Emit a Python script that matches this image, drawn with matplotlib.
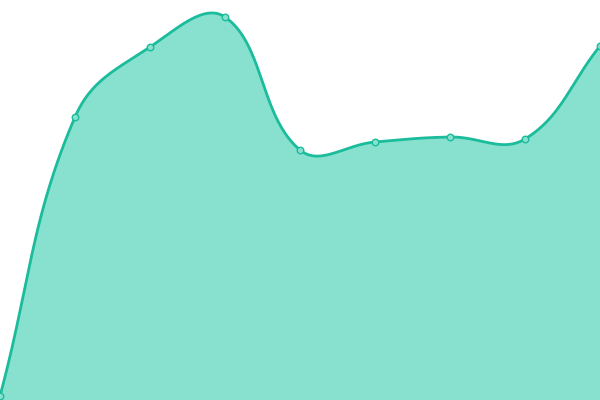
import numpy as np
import matplotlib
matplotlib.use("Agg")
import matplotlib.pyplot as plt

categories = ["A", "B", "C", "D", "E", "F", "G", "H", "I"]
values = [4, 283, 353, 383, 250, 258, 263, 261, 354]

LINE = "#1abc9c"
FILL = "#88e0cf"

fig = plt.figure(figsize=(6, 4), dpi=100)
ax = fig.add_axes([0, 0, 1, 1])
ax.set_xlim(0, len(values) - 1)
ax.set_ylim(0, 400)
ax.axis("off")

# Chart.js-like spline (tension 0.4) computed in pixel space
x = np.arange(len(values), dtype=float)
y = np.array(values, dtype=float)
pts = ax.transData.transform(np.column_stack([x, y]))
t = 0.4
n = len(pts)
cp_prev = np.zeros_like(pts)
cp_next = np.zeros_like(pts)
for i in range(n):
    prev = pts[i - 1] if i > 0 else pts[i]
    cur = pts[i]
    nxt = pts[i + 1] if i < n - 1 else pts[i]
    d01 = np.hypot(*(cur - prev))
    d12 = np.hypot(*(nxt - cur))
    tot = d01 + d12
    s01 = d01 / tot if tot else 0
    s12 = d12 / tot if tot else 0
    fa = t * s01
    fb = t * s12
    cp_prev[i] = cur - fa * (nxt - prev)
    cp_next[i] = cur + fb * (nxt - prev)

curve = []
u = np.linspace(0, 1, 60)[:, None]
for i in range(n - 1):
    p0, p1, p2, p3 = pts[i], cp_next[i], cp_prev[i + 1], pts[i + 1]
    seg = ((1 - u) ** 3) * p0 + 3 * ((1 - u) ** 2) * u * p1 + 3 * (1 - u) * u ** 2 * p2 + u ** 3 * p3
    curve.append(seg if i == 0 else seg[1:])
curve = np.vstack(curve)
data_curve = ax.transData.inverted().transform(curve)

ax.fill_between(data_curve[:, 0], data_curve[:, 1], 0, color=FILL, lw=0, zorder=1)
ax.plot(data_curve[:, 0], data_curve[:, 1], color=LINE, lw=2.0, zorder=2,
        solid_capstyle="round", clip_on=False)
ax.scatter(x, y, s=22, facecolor=FILL, edgecolor=LINE, linewidths=1.0, zorder=3, clip_on=False)

fig.savefig("out.png", dpi=100)
